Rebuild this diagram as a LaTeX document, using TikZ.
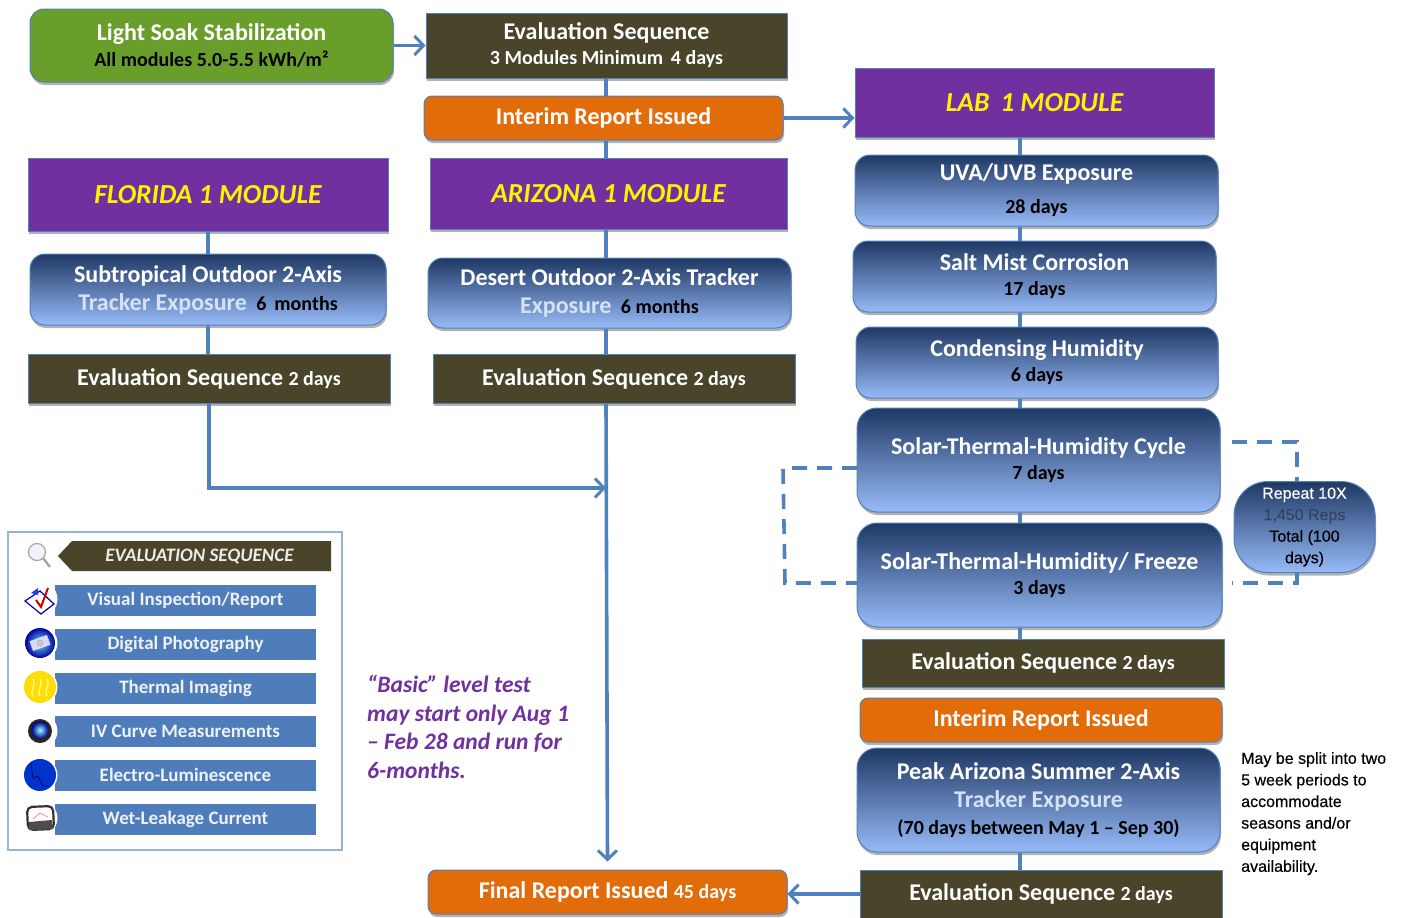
\documentclass[tikz,border=0pt]{standalone}
\usepackage{fontspec}
\setmainfont{Carlito}
\newfontfamily\notefont[FakeBold=0.4]{Liberation Sans}
\usetikzlibrary{arrows.meta,shadows}

\definecolor{evalbrown}{HTML}{4A442A}
\definecolor{reportorange}{HTML}{E36C0A}
\definecolor{modulepurple}{HTML}{7030A0}
\definecolor{soakgreen}{HTML}{6A9E2B}
\definecolor{edgeblue}{HTML}{4F81BD}
\definecolor{stagetop}{HTML}{1F3864}
\definecolor{stagemid}{HTML}{5B7CB4}
\definecolor{stagelow}{HTML}{97BBF8}
\definecolor{barblue}{HTML}{4F7CBA}
\definecolor{frameblue}{HTML}{95B3D7}
\definecolor{paletext}{HTML}{D5E2F6}

\newcommand{\bigtxt}{\fontsize{24}{27}\selectfont}
\newcommand{\smalltxt}{\fontsize{20}{24}\selectfont}

\tikzset{
    boxbase/.style={draw=edgeblue,line width=1pt,inner sep=0pt,align=center,text=white,font=\bigtxt\bfseries,
        drop shadow={shadow xshift=1pt,shadow yshift=-3pt,fill=black,opacity=.3}},
    evalbox/.style={boxbase,fill=evalbrown},
    reportbox/.style={boxbase,fill=reportorange,rounded corners=8pt},
    modulebox/.style={boxbase,fill=modulepurple,text=yellow,font=\fontsize{27.5}{32}\selectfont\bfseries\itshape},
    soakbox/.style={boxbase,fill=soakgreen,rounded corners=14pt},
    stagebox/.style={boxbase,rounded corners=15pt,top color=stagetop,middle color=stagemid,bottom color=stagelow},
    legendbar/.style={fill=barblue,inner sep=0pt,font=\fontsize{19}{22}\selectfont\bfseries,
        minimum width=261pt,minimum height=31pt,text=white!90!barblue},
    flowline/.style={edgeblue,line width=3.6pt},
    flowarrow/.style={flowline,-{Straight Barb[length=9pt,width=19pt,line width=3pt]}},
    loopline/.style={edgeblue,line width=3.6pt,dash pattern=on 15pt off 10pt},
}

\begin{document}
\begin{tikzpicture}[x=1pt,y=-1pt]
    \useasboundingbox (0,0) rectangle (1401,918);

    % spines of the three columns
    \coordinate (spineAz) at (606,0);
    \coordinate (spineLab) at (1020,0);

    % top row
    \node[soakbox,minimum width=363pt,minimum height=73pt] (soak) at (211.5,45.5)
        {Light Soak Stabilization\\[-1pt]{\smalltxt\color{black} All modules 5.0-5.5 kWh/m²}};
    \node[evalbox,minimum width=361pt,minimum height=65pt] (evalTop) at (606.5,45.5)
        {Evaluation Sequence\\[-2pt]{\smalltxt 3 Modules Minimum\, 4 days}};
    \node[reportbox,minimum width=359pt,minimum height=44pt] (reportTop) at (603.5,118)
        {Interim Report Issued};

    % Florida
    \node[modulebox,minimum width=360pt,minimum height=73pt] (florida) at (208,194.5) {FLORIDA 1 MODULE};
    \node[stagebox,minimum width=356pt,minimum height=71pt] (floridaStage) at (208,289.5)
        {Subtropical Outdoor 2-Axis\\[1pt]{\color{paletext}Tracker Exposure}\, {\smalltxt\color{black} 6\, months}};
    \node[evalbox,minimum width=362pt,minimum height=49pt] (floridaEval) at (209,378.5)
        {Evaluation Sequence {\smalltxt 2 days}};

    % Arizona
    \node[modulebox,minimum width=357pt,minimum height=71pt] (arizona) at (608.5,193.5) {ARIZONA 1 MODULE};
    \node[stagebox,minimum width=363pt,minimum height=70pt] (arizonaStage) at (609.5,293)
        {Desert Outdoor 2-Axis Tracker\\[1pt]{\color{paletext}Exposure}\, {\smalltxt\color{black} 6 months}};
    \node[evalbox,minimum width=362pt,minimum height=49pt] (arizonaEval) at (614,378.5)
        {Evaluation Sequence {\smalltxt 2 days}};

    % Lab
    \node[modulebox,minimum width=359pt,minimum height=69pt] (lab) at (1034.5,102.5) {LAB\, 1 MODULE};
    \node[stagebox,minimum width=363pt,minimum height=71pt] (uva) at (1036.5,190.5)
        {UVA/UVB Exposure\\[6pt]{\smalltxt\color{black} 28 days}};
    \node[stagebox,minimum width=363pt,minimum height=71pt] (salt) at (1034.5,276.5)
        {Salt Mist Corrosion\\[-2pt]{\smalltxt\color{black} 17 days}};
    \node[stagebox,minimum width=362pt,minimum height=71pt] (humidity) at (1037,362.5)
        {Condensing Humidity\\[-2pt]{\smalltxt\color{black} 6 days}};
    \node[stagebox,rounded corners=20pt,minimum width=363pt,minimum height=104pt] (cycle) at (1038.5,460)
        {Solar-Thermal-Humidity Cycle\\[-2pt]{\smalltxt\color{black} 7 days}};
    \node[stagebox,rounded corners=20pt,minimum width=365pt,minimum height=104pt] (freeze) at (1039.5,575)
        {Solar-Thermal-Humidity/ Freeze\\[-2pt]{\smalltxt\color{black} 3 days}};
    \node[evalbox,minimum width=362pt,minimum height=48pt] (labEval) at (1043,663)
        {Evaluation Sequence {\smalltxt 2 days}};
    \node[reportbox,minimum width=362pt,minimum height=44pt] (labReport) at (1041,720)
        {Interim Report Issued};
    \node[stagebox,rounded corners=20pt,minimum width=363pt,minimum height=104pt] (peak) at (1038.5,800)
        {Peak Arizona Summer 2-Axis\\[1pt]{\color{paletext}Tracker Exposure}\\{\smalltxt\color{black} (70 days between May 1 – Sep 30)}};
    \node[evalbox,minimum width=362pt,minimum height=48pt] (lastEval) at (1041,894)
        {Evaluation Sequence {\smalltxt 2 days}};

    % Final
    \node[reportbox,minimum width=359pt,minimum height=44pt] (finalReport) at (607.5,892)
        {Final Report Issued {\smalltxt 45 days}};

    % Repeat
    \node[stagebox,rounded corners=34pt,minimum width=141pt,minimum height=91pt,font=\notefont\fontsize{16}{21.5}\selectfont,text=black] (repeatBox) at (1304.5,527)
        {{\color{white}Repeat 10X}\\{\color{stagemid!55!black}1,450 Reps}\\Total (100\\days)};

    % connectors
    \draw[flowarrow] (soak.east) -- (evalTop.west);
    \draw[flowline] (spineAz |- evalTop.south) -- (spineAz |- reportTop.north);
    \draw[flowline] (spineAz |- reportTop.south) -- (spineAz |- arizona.north);
    \draw[flowarrow] (reportTop.east) -- (reportTop.east -| lab.west);
    \draw[flowline] (spineAz |- arizona.south) -- (spineAz |- arizonaStage.north);
    \draw[flowline] (spineAz |- arizonaStage.south) -- (spineAz |- arizonaEval.north);
    \draw[flowarrow] (spineAz |- arizonaEval.south) -- ([yshift=8pt]finalReport.north);
    \draw[flowline] (florida.south) -- (florida.south |- floridaStage.north);
    \draw[flowline] (floridaStage.south) -- (floridaStage.south |- floridaEval.north);
    \coordinate (merge) at (606,488);
    \draw[flowarrow] (floridaEval.south) |- (merge);
    \draw[flowline] (spineLab |- lab.south) -- (spineLab |- uva.north);
    \draw[flowline] (spineLab |- uva.south) -- (spineLab |- salt.north);
    \draw[flowline] (spineLab |- salt.south) -- (spineLab |- humidity.north);
    \draw[flowline] (spineLab |- humidity.south) -- (spineLab |- cycle.north);
    \draw[flowline] (spineLab |- cycle.south) -- (spineLab |- freeze.north);
    \draw[flowline] (spineLab |- freeze.south) -- (spineLab |- labEval.north);
    \draw[flowline] (spineLab |- peak.south) -- (spineLab |- lastEval.north);
    \draw[flowarrow] (lastEval.west) -- (lastEval.west -| finalReport.east);

    % repeat loop
    \coordinate (loopOutTop) at (1232,442);
    \coordinate (loopInTop) at (1297,481);
    \coordinate (loopInLow) at (1297,572);
    \coordinate (loopOutLow) at (1232,583);
    \draw[loopline] (loopOutTop) -| (loopInTop);
    \draw[loopline] (loopInLow) |- (loopOutLow);
    \coordinate (loopA) at (857,468);
    \coordinate (loopB) at (783,468);
    \coordinate (loopC) at (785,583);
    \coordinate (loopD) at (857,583);
    \draw[loopline] (loopA) -- (loopB) -- (loopC) -- (loopD);

    % legend
    \draw[frameblue,line width=1.8pt,fill=white] (8,532) rectangle (342,850);
    \draw[fill=evalbrown,draw=none] (58,556) -- (72,541) -- (331,541) -- (331,571) -- (72,571) -- cycle;
    \node[text=white!90!evalbrown,font=\fontsize{19}{22}\selectfont\bfseries\itshape] (legendHead) at (199.5,556.5) {EVALUATION SEQUENCE};
    \node[legendbar] (barVisual) at (185.5,600) {Visual Inspection/Report};
    \node[legendbar] (barPhoto) at (185.5,644) {Digital Photography};
    \node[legendbar] (barThermal) at (185.5,688) {Thermal Imaging};
    \node[legendbar] (barCurve) at (185.5,731.5) {IV Curve Measurements};
    \node[legendbar] (barLumi) at (185.5,775) {Electro-Luminescence};
    \node[legendbar] (barWet) at (185.5,819) {Wet-Leakage Current};

    % legend icons
    \draw[gray!70,line width=2.4pt] (43,558) -- (50,567);
    \draw[gray!70,line width=1.2pt,fill=blue!5] (37,552) circle (8.5);
    \fill[white] (40,599) circle (17.5);
    \fill[white] (40,643) circle (17.5);
    \fill[white] (40,687) circle (17.5);
    \fill[white] (40,731) circle (17.5);
    \fill[white] (40,775) circle (17.5);
    \fill[white] (40,818) circle (17.5);
    % visual
    \draw[blue!60!black,line width=1.2pt,fill=white] (25,601) -- (40,591) -- (54,604) -- (41,614) -- cycle;
    \fill[blue!80] (31,593) -- (38,588) -- (38,595) -- cycle;
    \draw[red!80!black,line width=2pt] (36,600) -- (41,607) -- (48,588);
    % photo
    \shade[inner color=blue!20!cyan!60,outer color=blue!60!black] (40,643) circle (15);
    \draw[gray!30,fill=white!85!blue,rotate around={20:(40,643)}] (31,638) rectangle (49,648);
    \draw[gray!70,fill=gray!40] (40,643) circle (3);
    % thermal
    \fill[yellow!80!orange] (40,687) circle (16);
    \draw[yellow!50,line width=1.5pt] (33,696) .. controls (29,690) and (37,686) .. (33,679);
    \draw[yellow!50,line width=1.5pt] (40,696) .. controls (36,690) and (44,686) .. (40,679);
    \draw[yellow!50,line width=1.5pt] (47,696) .. controls (43,690) and (51,686) .. (47,679);
    % curve
    \fill[black!85] (40,731) circle (12);
    \shade[inner color=cyan!40,outer color=blue!60!black] (40,730) circle (8.5);
    % luminescence
    \fill[blue!75!cyan!80!black] (40,775) circle (16);
    \draw[blue!40!black,line width=.7pt] (31,763) -- (33,778) -- (38,776) -- (43,786) -- (48,786);
    % wet leakage
    \draw[black!80,line width=2.2pt,rounded corners=5pt,fill=white] (27,807) -- (53,806) -- (54,829) -- (28,830) -- cycle;
    \fill[black!70] (29,822) -- (52,820) -- (53,829) -- (29,830) -- cycle;
    \draw[red!60,line width=.6pt] (33,819) -- (40,813) -- (48,817);

    % notes
    \node[anchor=north west,align=left,inner sep=0pt,text=modulepurple,font=\fontsize{23.5}{28.6}\selectfont\bfseries\itshape] (basicNote) at (367,675)
        {“Basic” level test\\may start only Aug 1\\– Feb 28 and run for\\6-months.};
    \node[anchor=north west,align=left,inner sep=0pt,font=\notefont\fontsize{16}{21.6}\selectfont] (splitNote) at (1241,752)
        {May be split into two\\5 week periods to\\accommodate\\seasons and/or\\equipment\\availability.};
\end{tikzpicture}
\end{document}
